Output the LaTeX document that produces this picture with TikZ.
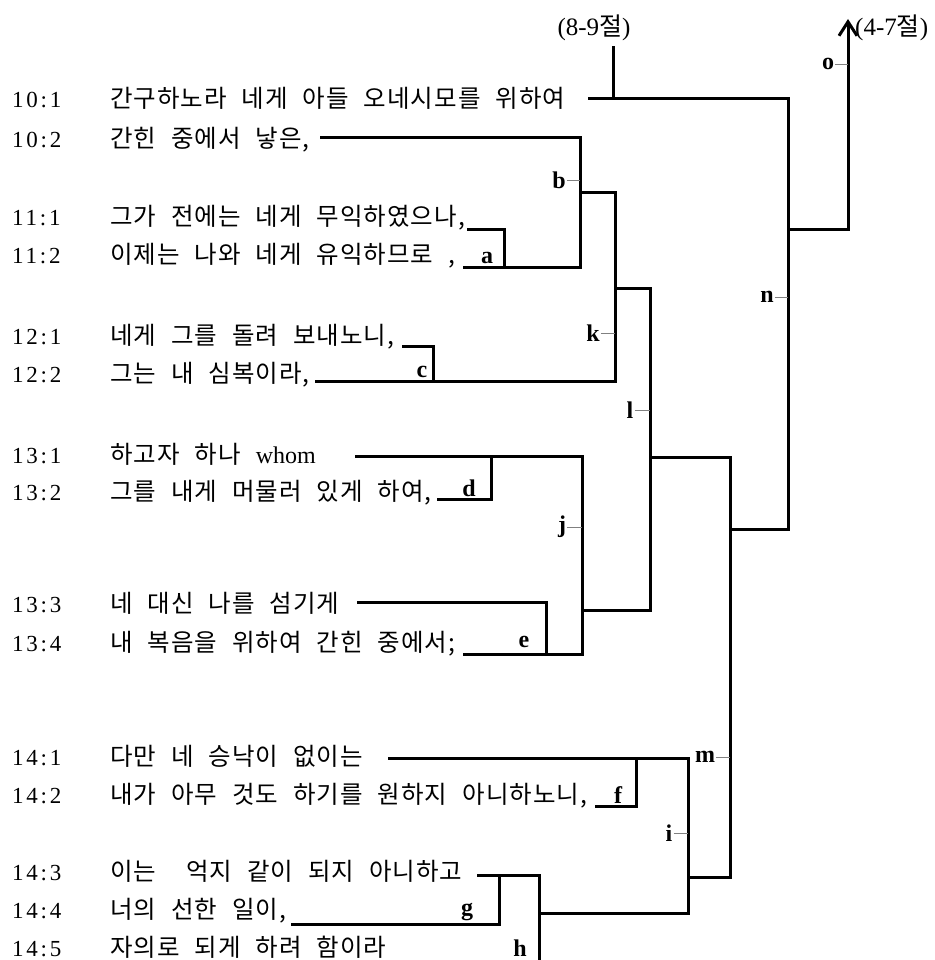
\documentclass[tikz,border=0pt]{standalone}
\usepackage{fontspec}
\setmainfont{Liberation Serif}
\newfontfamily\krfont[LetterSpace=4]{Noto Sans CJK KR}
\newfontfamily\krsign{Noto Sans CJK KR}
\newfontfamily\versefont[LetterSpace=12]{Liberation Serif}
\usepackage{tikz}
\usetikzlibrary{arrows.meta}
\tikzset{
	outline/.style={x=1pt,y=-1pt,line join=miter},
	verse/.style={anchor=base west,inner sep=0pt,font=\versefont\fontsize{23}{25}\selectfont},
	clause/.style={anchor=base west,inner sep=0pt,font=\krfont\fontsize{24.5}{27}\selectfont},
	lbl/.style={inner sep=1pt,font=\bfseries\fontsize{24}{26}\selectfont},
	passage/.style={inner sep=0pt,font=\fontsize{25}{27}\selectfont},
	bracket/.style={draw,line width=3pt},
	tick/.style={draw=gray,line width=0.9pt}
}

\begin{document}
\begin{tikzpicture}[outline]
	\useasboundingbox (0,0) rectangle (934,960);
	
	% verses
	\foreach \v/\y/\t [count=\i] in {
		10:1/108/{간구하노라 네게 아들 오네시모를 위하여},
		10:2/148/{간힌 중에서 낳은,},
		11:1/225/{그가 전에는 네게 무익하였으나,},
		11:2/263/{이제는 나와 네게 유익하므로 ,},
		12:1/344/{네게 그를 돌려 보내노니,},
		12:2/382/{그는 내 심복이라,},
		13:1/463/{하고자 하나 {\rmfamily\fontsize{24}{26}\selectfont whom}},
		13:2/500/{그를 내게 머물러 있게 하여,},
		13:3/612/{네 대신 나를 섬기게},
		13:4/651/{내 복음을 위하여 간힌 중에서;},
		14:1/765/{다만 네 승낙이 없이는},
		14:2/803/{내가 아무 것도 하기를 원하지 아니하노니,},
		14:3/880/{이는~ 억지 같이 되지 아니하고},
		14:4/918/{너의 선한 일이,},
		14:5/956/{자의로 되게 하려 함이라}}{
		\node[verse] (v\i) at (12,\y) {\v};
		\node[clause] (c\i) at (110,\y) {\spaceskip=15pt\relax\t};
	}
	
	\node[passage] (p89) at (594,28) {(8-9{\krsign 절})};
	\node[passage, anchor=west] (p47) at (855,28) {(4-7{\krsign 절})};
	
	% clause ends
	\coordinate (end101) at (588,99);
	\coordinate (end102) at (320,138);
	\coordinate (end111) at (467,229);
	\coordinate (end112) at (463,267);
	\coordinate (end121) at (402,346);
	\coordinate (end122) at (315,381);
	\coordinate (end131) at (355,456);
	\coordinate (end132) at (437,499);
	\coordinate (end133) at (357,602);
	\coordinate (end134) at (463,654);
	\coordinate (end141) at (388,758);
	\coordinate (end142) at (595,806);
	\coordinate (end143) at (477,875);
	\coordinate (end144) at (291,924);
	
	% bars
	\coordinate (barA) at (504,0);
	\coordinate (barB) at (580,0);
	\coordinate (barC) at (433,0);
	\coordinate (barD) at (491,0);
	\coordinate (barE) at (546,0);
	\coordinate (barF) at (636,0);
	\coordinate (barG) at (499,0);
	\coordinate (barI) at (688,0);
	\coordinate (barJ) at (582,0);
	\coordinate (barK) at (615,0);
	\coordinate (barL) at (650,0);
	\coordinate (barM) at (730,0);
	\coordinate (barN) at (788,0);
	
	% joins
	\coordinate (joinK) at (580,192);
	\coordinate (joinL) at (615,288);
	\coordinate (joinM) at (650,457);
	\coordinate (joinN) at (730,529);
	\coordinate (joinO) at (788,229);
	\coordinate (joinJ) at (582,610);
	\coordinate (joinI) at (688,877);
	\coordinate (joinH) at (541,913);
	\coordinate (stub89) at (613,46);
	\coordinate (top47) at (848,19);
	\coordinate (downH) at (539,964);
	
	\path[bracket] (end101) -| (joinN -| barN) -- (joinN);
	\path[bracket] (end101 -| stub89) -- (stub89);
	\path[bracket,-{Straight Barb[length=14pt,width=18pt]}] (joinO) -| (top47);
	\path[bracket] (end102) -| (end112 -| barB) -- (end112);
	\path[bracket] (end111) -| (end112 -| barA);
	\path[bracket] (joinK) -| (end122 -| barK) -- (end122);
	\path[bracket] (end121) -| (end122 -| barC);
	\path[bracket] (joinL) -| (joinJ -| barL) -- (joinJ);
	\path[bracket] (end131) -| (end134 -| barJ) -- (end134);
	\path[bracket] (end132) -| (end131 -| barD);
	\path[bracket] (end133) -| (end134 -| barE);
	\path[bracket] (joinM) -| (joinI -| barM) -- (joinI);
	\path[bracket] (end141) -| (joinH -| barI) -- (joinH);
	\path[bracket] (end142) -| (end141 -| barF);
	\path[bracket] (end143) -| (downH);
	\path[bracket] (end144) -| (end143 -| barG);
	
	% labels
	\node[lbl] (la) at (487,258) {a};
	\node[lbl] (lc) at (422,372) {c};
	\node[lbl] (ld) at (469,488) {d};
	\node[lbl] (le) at (524,642) {e};
	\node[lbl] (lf) at (618,795) {f};
	\node[lbl] (lg) at (467,912) {g};
	\node[lbl] (lh) at (520,948) {h};
	\node[lbl] (lb) at (559,180) {b};
	\node[lbl] (lk) at (593,333) {k};
	\node[lbl] (ll) at (630,410) {l};
	\node[lbl] (lj) at (562,527) {j};
	\node[lbl] (li) at (669,833) {i};
	\node[lbl] (lm) at (705,757) {m};
	\node[lbl] (ln) at (767,297) {n};
	\node[lbl] (lo) at (828,64) {o};
	
	\foreach \l/\b in {lb/barB,lk/barK,ll/barL,lj/barJ,li/barI,lm/barM,ln/barN,lo/top47}
		\path[tick] (\l.east) -- (\l.east -| \b);
\end{tikzpicture}
\end{document}
